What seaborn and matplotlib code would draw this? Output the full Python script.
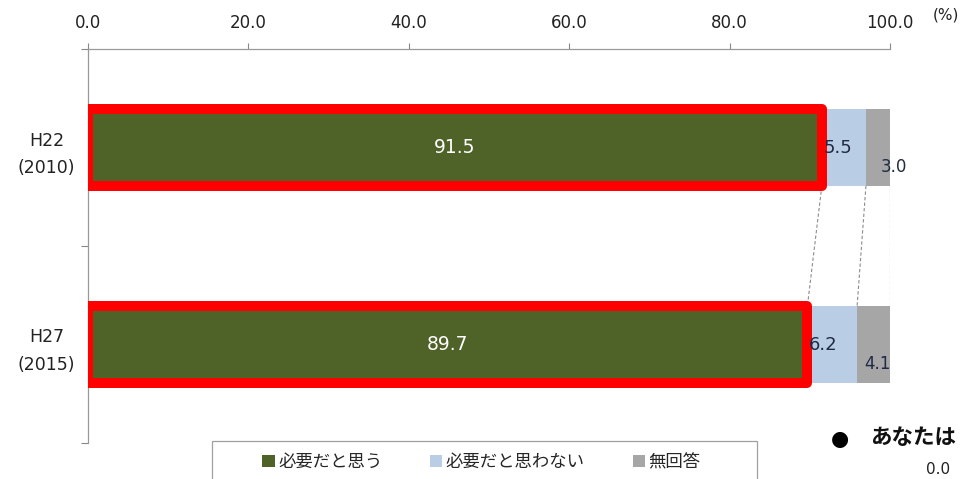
import matplotlib
matplotlib.use("Agg")
import matplotlib.pyplot as plt
from matplotlib.patches import Patch, Rectangle
import seaborn as sns
import pandas as pd
import numpy as np

# ---- data ----
years = ["H22\n(2010)", "H27\n(2015)"]
series = ["必要だと思う", "必要だと思わない", "無回答"]
need = [91.5, 89.7]
not_need = [5.5, 6.2]
no_answer = [3.0, 4.1]
xticks = [0, 20, 40, 60, 80, 100]
colors = ["#4F6228", "#B9CDE5", "#A6A6A6"]

sns.set_theme(style="white")
plt.rcParams["font.family"] = ["DejaVu Sans", "Noto Sans CJK JP"]

W, H = 965, 479
fig = plt.figure(figsize=(9.65, 4.79), dpi=100)
ax = fig.add_axes([88 / W, 1 - 443 / H, (890 - 88) / W, (443 - 49) / H])

vals = np.array([need, not_need, no_answer])
cum = np.cumsum(vals, axis=0)
df = pd.DataFrame({"year": years})

# stacked bars: draw cumulative totals from back to front
bw = 0.39
for i in [2, 1, 0]:
    d = df.assign(v=cum[i])
    kw = dict(edgecolor="none", linewidth=0)
    if i == 0:
        kw = dict(edgecolor="#FF0000", linewidth=7.2)
    sns.barplot(data=d, x="v", y="year", orient="h", color=colors[i],
                width=bw, saturation=1, ax=ax, zorder=3 if i == 0 else 2, **kw)
for p in ax.patches:
    p.set_joinstyle("round")

# data labels
txtc = "#1F2A44"
for j in range(2):
    ax.text(need[j] / 2, j, f"{need[j]:.1f}", color="white", ha="center",
            va="center", fontsize=13.5, zorder=5)
    ax.text(cum[0][j] + 0.2, j, f"{not_need[j]:.1f}", color=txtc,
            ha="left", va="center", fontsize=13, zorder=5)
    ax.text(cum[1][j] + no_answer[j] / 2 + (2.0 if j == 0 else 0.5),
            j + 0.1, f"{no_answer[j]:.1f}",
            color=txtc, ha="center", va="center", fontsize=12, zorder=5)

# series lines
for i in range(3):
    ax.plot([cum[i][0], cum[i][1]], [0 + bw / 2, 1 - bw / 2],
            color="#8C8C8C", lw=0.8, ls=(0, (3, 2)), zorder=1)

ax.set_xlim(0, 100)
ax.set_ylim(1.5, -0.5)
ax.xaxis.tick_top()
ax.set_xticks(xticks)
ax.set_xticklabels([f"{t:.1f}" for t in xticks], fontsize=12, color="#222222")
ax.tick_params(axis="x", direction="out", length=4.5, width=0.8, color="#888888", pad=8)
ax.set_yticks([0, 1])
ax.set_yticklabels(years, fontsize=12.5, color="#222222", ha="center",
                   linespacing=1.7)
ax.tick_params(axis="y", which="major", length=0, pad=30)
ax.set_yticks([-0.5, 0.5, 1.5], minor=True)
ax.tick_params(axis="y", which="minor", length=5, width=0.8, color="#888888", left=True)
ax.set_xlabel("")
ax.set_ylabel("")
for s in ["right", "bottom"]:
    ax.spines[s].set_visible(False)
for s in ["top", "left"]:
    ax.spines[s].set_color("#999999")
    ax.spines[s].set_linewidth(0.9)

fig.text(933 / W, 1 - 15 / H, "(%)", fontsize=11, color="#222222",
         ha="left", va="center")

# legend box + legend
fig.patches.append(Rectangle((212 / W, -0.05), (757 - 212) / W, 0.05 + 1 - 441 / H,
                             transform=fig.transFigure, facecolor="white",
                             edgecolor="#A0A0A0", linewidth=0.9))
handles = [Patch(facecolor=c, edgecolor="none") for c in colors]
leg = fig.legend(handles, series, loc="center left",
                 bbox_to_anchor=(262 / W, 1 - 462 / H),
                 ncol=3, frameon=False, borderpad=0, borderaxespad=0,
                 prop={"family": ["Noto Sans CJK JP"], "size": 12.5},
                 handlelength=0.72, handleheight=0.72, handletextpad=0.2,
                 columnspacing=2.75)

fig.text(840 / W, 1 - 439 / H, "●", fontsize=15, family=["DejaVu Sans"],
         ha="center", va="center", color="#000000")
fig.text(870 / W, 1 - 438 / H, "あなたは", fontsize=15.5, fontweight="bold",
         family=["Noto Sans CJK JP"], ha="left", va="center", color="#111111")
fig.text(938 / W, 1 - 470 / H, "0.0", fontsize=11, color="#222222",
         ha="center", va="center")

fig.savefig("out.png", dpi=100)
